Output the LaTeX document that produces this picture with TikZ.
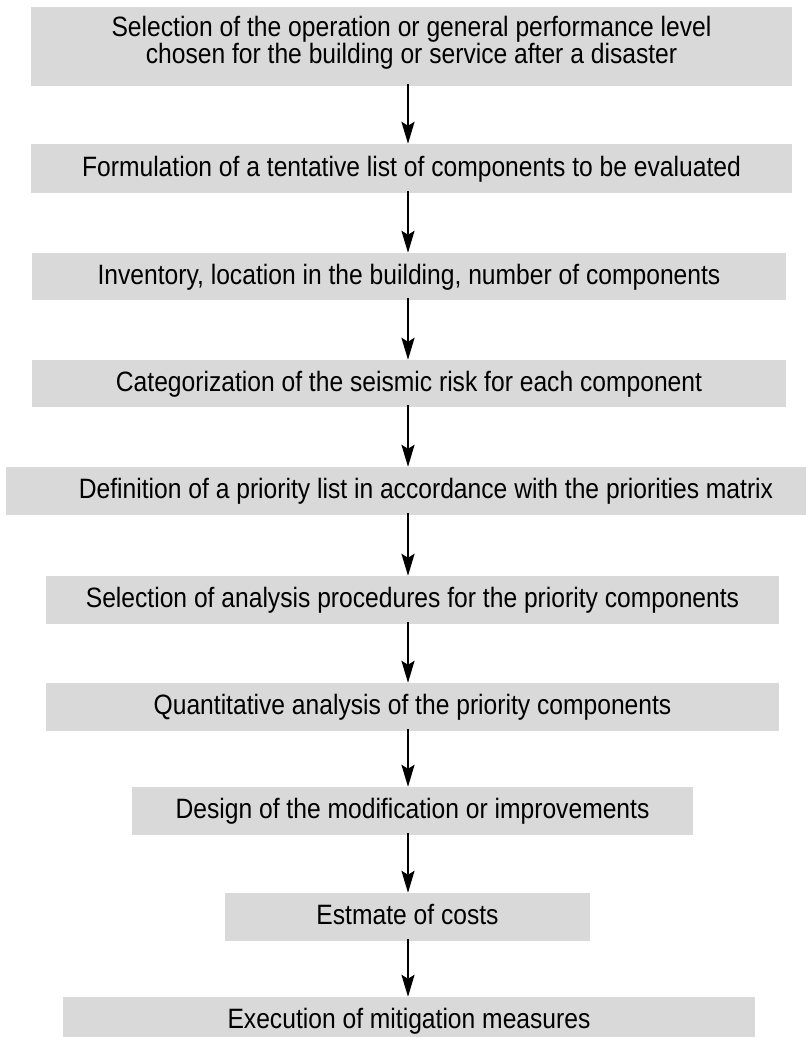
\documentclass[tikz,border=0pt]{standalone}
\usepackage{fontspec}
\setmainfont{Liberation Sans}[FakeStretch=0.88]
\usetikzlibrary{arrows.meta}
\definecolor{boxgray}{HTML}{D9D9D9}
\tikzset{
  stepbox/.style={fill=boxgray, draw=none, inner sep=0pt, align=center,
    font=\fontsize{28}{26}\selectfont, anchor=center, text depth=5pt},
  arr/.style={line width=2.4pt, -{Stealth[length=22pt,width=13pt,inset=4pt]}}
}
\begin{document}
\begin{tikzpicture}[x=1pt,y=-1pt]
\useasboundingbox (0,0) rectangle (806,1037);
\begin{scope}
\clip (0,0) rectangle (806,1037);
\node[stepbox, text depth=14pt, minimum width=761pt, minimum height=79pt] (b1) at (411.5,46.5)
  {Selection of the operation or general performance level\\chosen for the building or service after a disaster};
\node[stepbox, minimum width=761pt, minimum height=49pt] (b2) at (411.5,168.5)
  {Formulation of a tentative list of components to be evaluated};
\node[stepbox, minimum width=754pt, minimum height=47pt] (b3) at (409,276.5)
  {Inventory, location in the building, number of components};
\node[stepbox, minimum width=754pt, minimum height=47pt] (b4) at (409,383.5)
  {Categorization of the seismic risk for each component};
\node[stepbox, minimum width=800pt, minimum height=48pt] (b5) at (406,491)
  {\hspace{40pt}Definition of a priority list in accordance with the priorities matrix};
\node[stepbox, minimum width=733pt, minimum height=48pt] (b6) at (412.5,600)
  {Selection of analysis procedures for the priority components};
\node[stepbox, minimum width=733pt, minimum height=48pt] (b7) at (412.5,707)
  {Quantitative analysis of the priority components};
\node[stepbox, minimum width=561pt, minimum height=48pt] (b8) at (412.5,811)
  {Design of the modification or improvements};
\node[stepbox, minimum width=365pt, minimum height=48pt] (b9) at (407.5,917)
  {Estmate of costs};
\node[stepbox, minimum width=692pt, minimum height=48pt] (b10) at (409,1021)
  {Execution of mitigation measures};
\coordinate (ax) at (408,0);
\draw[arr] ([yshift=2pt]b1.south -| ax) -- (b2.north -| ax);
\draw[arr] ([yshift=2pt]b2.south -| ax) -- (b3.north -| ax);
\draw[arr] ([yshift=2pt]b3.south -| ax) -- (b4.north -| ax);
\draw[arr] ([yshift=2pt]b4.south -| ax) -- (b5.north -| ax);
\draw[arr] ([yshift=2pt]b5.south -| ax) -- (b6.north -| ax);
\draw[arr] ([yshift=2pt]b6.south -| ax) -- (b7.north -| ax);
\draw[arr] ([yshift=2pt]b7.south -| ax) -- (b8.north -| ax);
\draw[arr] ([yshift=2pt]b8.south -| ax) -- (b9.north -| ax);
\draw[arr] ([yshift=2pt]b9.south -| ax) -- (b10.north -| ax);
\end{scope}
\end{tikzpicture}
\end{document}
